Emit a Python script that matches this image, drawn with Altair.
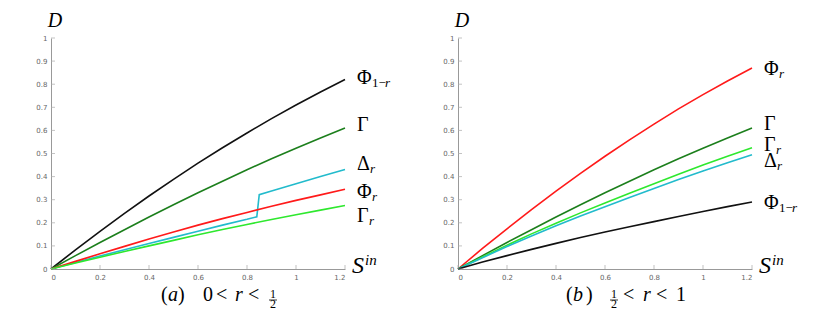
import altair as alt
import pandas as pd

# ---------------- data ----------------
x_vals = [0.0, 0.1, 0.2, 0.3, 0.4, 0.5, 0.6, 0.7, 0.8, 0.9, 1.0, 1.1, 1.2]

# panel (a) 0 < r < 1/2
a_phi_1mr = [0, 0.083, 0.163, 0.241, 0.316, 0.388, 0.458, 0.525, 0.589, 0.651, 0.710, 0.766, 0.82]
a_gamma = [0, 0.058, 0.115, 0.17, 0.225, 0.278, 0.33, 0.38, 0.43, 0.477, 0.523, 0.567, 0.61]
a_phi_r = [0, 0.033, 0.066, 0.098, 0.13, 0.16, 0.19, 0.218, 0.245, 0.272, 0.297, 0.321, 0.345]
a_gamma_r = [0, 0.026, 0.051, 0.076, 0.10, 0.124, 0.148, 0.171, 0.193, 0.214, 0.235, 0.255, 0.275]
a_delta_x = [0.0, 0.1, 0.2, 0.3, 0.4, 0.5, 0.6, 0.7, 0.8, 0.84, 0.85, 0.9, 1.0, 1.1, 1.2]
a_delta = [0, 0.028, 0.056, 0.083, 0.11, 0.137, 0.163, 0.19, 0.215, 0.226, 0.322, 0.338, 0.369, 0.40, 0.431]

# panel (b) 1/2 < r < 1
b_phi_r = [0, 0.089, 0.174, 0.257, 0.337, 0.414, 0.488, 0.559, 0.627, 0.693, 0.755, 0.814, 0.87]
b_gamma = [0, 0.058, 0.115, 0.17, 0.225, 0.278, 0.33, 0.38, 0.43, 0.477, 0.523, 0.567, 0.61]
b_gamma_r = [0, 0.052, 0.103, 0.152, 0.198, 0.243, 0.286, 0.328, 0.369, 0.41, 0.45, 0.488, 0.525]
b_delta = [0, 0.049, 0.097, 0.143, 0.187, 0.229, 0.27, 0.31, 0.349, 0.387, 0.424, 0.46, 0.495]
b_phi_1mr = [0, 0.03, 0.058, 0.085, 0.111, 0.136, 0.16, 0.183, 0.205, 0.227, 0.249, 0.27, 0.29]

series_domain = ["Phi_1mr", "Gamma", "Delta_r", "Phi_r", "Gamma_r"]
series_colors = ["#111111", "#1c7f1c", "#22bbcc", "#ff1a1a", "#2ee82e"]

# labels at line ends: main glyph, upright subscript, italic subscript, label height
a_lab_main = ["Φ", "Γ", "Δ", "Φ", "Γ"]
a_lab_sub = ["1−", "", "", "", ""]
a_lab_it = ["r", "", "r", "r", "r"]
a_lab_y = [0.83, 0.625, 0.457, 0.335, 0.232]

b_lab_main = ["Φ", "Γ", "Γ", "Δ", "Φ"]
b_lab_sub = ["", "", "", "", "1−"]
b_lab_it = ["r", "", "r", "r", "r"]
b_lab_y = [0.868, 0.63, 0.537, 0.47, 0.288]

x_ticks = [0, 0.2, 0.4, 0.6, 0.8, 1.0, 1.2]
y_ticks = [0, 0.1, 0.2, 0.3, 0.4, 0.5, 0.6, 0.7, 0.8, 0.9, 1.0]

W, H = 294, 231
SERIF = "Liberation Serif"
GLYPH_W = {"Φ": 15, "Γ": 12, "Δ": 13}

XS = alt.Scale(domain=[0, 1.2], nice=False, zero=False)
YS = alt.Scale(domain=[0, 1], nice=False)
XAX = alt.Axis(values=x_ticks, format="~g", labelOverlap=False, title=None, tickCount=7)
YAX = alt.Axis(values=y_ticks, format="~g", labelOverlap=False, title=None, tickCount=11)


def X(field):
    return alt.X(field, scale=XS, axis=XAX)


def Y(field):
    return alt.Y(field, scale=YS, axis=YAX)


def txt(t, px, py, size, italic=False, align="left"):
    kw = dict(font=SERIF, fontSize=size, align=align, baseline="alphabetic", color="black")
    if italic:
        kw["fontStyle"] = "italic"
    return alt.Chart(pd.DataFrame({"t": [t]})).mark_text(**kw).encode(
        text="t:N", x=alt.value(px), y=alt.value(py))


def panel(series, lab_main, lab_sub, lab_it, lab_y, caption):
    rows = []
    for name, xs, ys in series:
        for xv, yv in zip(xs, ys):
            rows.append({"series": name, "x": xv, "y": yv})
    df = pd.DataFrame(rows)

    lines = alt.Chart(df).mark_line(strokeWidth=1.6).encode(
        x=X("x:Q"), y=Y("y:Q"),
        color=alt.Color("series:N", scale=alt.Scale(domain=series_domain, range=series_colors), legend=None),
    )

    ytick = alt.Chart(pd.DataFrame({"y": y_ticks})).mark_tick(
        orient="horizontal", size=4, thickness=1, color="#aaa").encode(
        x=alt.value(2), y=Y("y:Q"))
    xtick = alt.Chart(pd.DataFrame({"x": x_ticks})).mark_tick(
        orient="vertical", size=4, thickness=1, color="#aaa").encode(
        x=X("x:Q"), y=alt.value(H - 2))

    layers = [lines, ytick, xtick]

    lab_df = pd.DataFrame({"idx": list(range(len(lab_main))), "main": lab_main, "sub": lab_sub,
                           "it": lab_it, "x": [1.2] * len(lab_main), "y": lab_y})
    for i in range(len(lab_main)):
        base = alt.Chart(lab_df).transform_filter(alt.datum.idx == i)
        enc = dict(x=X("x:Q"), y=Y("y:Q"))
        layers.append(base.mark_text(font=SERIF, fontSize=20, align="left", baseline="alphabetic",
                                     dx=12, dy=6.5, color="black").encode(text="main:N", **enc))
        off = 12 + GLYPH_W[lab_main[i]]
        if lab_sub[i]:
            layers.append(base.mark_text(font=SERIF, fontSize=13, align="left", baseline="alphabetic",
                                         dx=off, dy=9.5, color="black").encode(text="sub:N", **enc))
            off += 13
        if lab_it[i]:
            layers.append(base.mark_text(font=SERIF, fontSize=13, fontStyle="italic", align="left",
                                         baseline="alphabetic", dx=off, dy=9.5, color="black"
                                         ).encode(text="it:N", **enc))

    # axis names
    layers.append(txt("D", 4, -11, 20, italic=True, align="center"))
    layers.append(txt("S", W + 7, H + 4, 24, italic=True))
    layers.append(txt("in", W + 20, H - 4, 15, italic=True))

    # caption pieces
    for t, px, it in caption["pieces"]:
        layers.append(txt(t, px, H + 32, 20, italic=it))
    fx = caption["frac"]
    layers.append(txt("1", fx, H + 29, 12, align="center"))
    layers.append(txt("2", fx, H + 39, 12, align="center"))
    layers.append(alt.Chart(pd.DataFrame({"t": [0]})).mark_rule(color="black", strokeWidth=0.8).encode(
        x=alt.value(fx - 4), x2=alt.value(fx + 4), y=alt.value(H + 31)))

    return alt.layer(*layers).properties(width=W, height=H)


cap_a = {"pieces": [("(", 110, False), ("a", 117, True), (")", 127, False), ("0", 152, False),
                    ("<", 165, False), ("r", 184, True), ("<", 197, False)], "frac": 222}
cap_b = {"pieces": [("(", 108, False), ("b", 115, True), (")", 128, False), ("<", 165, False),
                    ("r", 185, True), ("<", 198, False), ("1", 218, False)], "frac": 156}

left = panel([("Phi_1mr", x_vals, a_phi_1mr), ("Gamma", x_vals, a_gamma),
              ("Delta_r", a_delta_x, a_delta), ("Phi_r", x_vals, a_phi_r),
              ("Gamma_r", x_vals, a_gamma_r)],
             a_lab_main, a_lab_sub, a_lab_it, a_lab_y, cap_a)
right = panel([("Phi_r", x_vals, b_phi_r), ("Gamma", x_vals, b_gamma),
               ("Gamma_r", x_vals, b_gamma_r), ("Delta_r", x_vals, b_delta),
               ("Phi_1mr", x_vals, b_phi_1mr)],
              b_lab_main, b_lab_sub, b_lab_it, b_lab_y, cap_b)

chart = alt.hconcat(left, right, spacing=51).properties(
    padding={"left": 27, "top": 3, "right": 5, "bottom": 5}
).configure_view(stroke=None).configure_axis(
    grid=False, labelFontSize=7, labelColor="#666", labelFont="DejaVu Sans",
    domainColor="#999", tickSize=0, labelPadding=4
)

chart.save("out.html", embed_options={"renderer": "svg", "actions": False})
